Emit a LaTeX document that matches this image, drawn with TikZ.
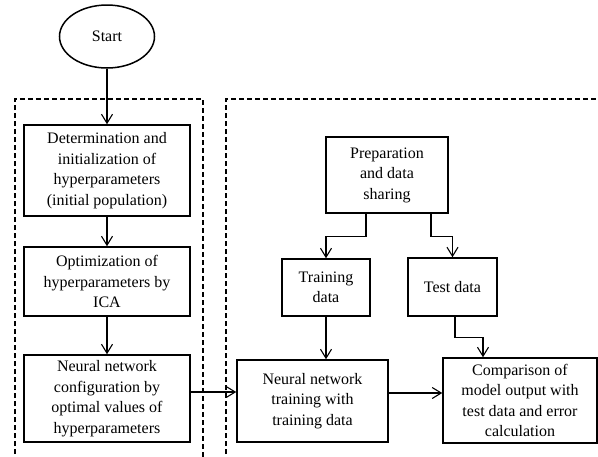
\documentclass[tikz,border=0pt]{standalone}
\usepackage{fontspec}
\setmainfont{Liberation Serif}
\usepackage{tikz}
\usetikzlibrary{arrows.meta,shapes.geometric}

\begin{document}
\begin{tikzpicture}[x=1pt,y=-1pt,line cap=butt,line join=miter,
  >={Straight Barb[length=9pt,width=11pt,line width=1.1pt]},
  box/.style={draw,line width=1.5pt,align=center,inner sep=2pt,
    font=\fontsize{16}{20.5}\selectfont},
  startnode/.style={draw,ellipse,line width=1.5pt,minimum width=95pt,minimum height=63pt,
    font=\fontsize{16}{20.5}\selectfont},
  frame/.style={line width=1.2pt,dash pattern=on 5pt off 3pt},
  link/.style={->,line width=1.1pt}]
\useasboundingbox (0,0) rectangle (598,456);
\clip (0,0) rectangle (598,456);
\draw[frame] (15,470) -- (15,99) -- (203,99) -- (203,470);
\draw[frame] (226,470) -- (226,99) -- (610,99);
\node[startnode] (start) at (107,36.5) {Start};
\node[box,minimum width=166pt,minimum height=91pt] (det) at (107,170.5) {Determination and\\initialization of\\hyperparameters\\(initial population)};
\node[box,minimum width=166pt,minimum height=69pt] (opt) at (107,281.5) {Optimization of\\hyperparameters by\\ICA};
\node[box,minimum width=166pt,minimum height=87pt] (cfg) at (107,398.5) {Neural network\\configuration by\\optimal values of\\hyperparameters};
\node[box,minimum width=122pt,minimum height=76pt] (prep) at (387,175) {Preparation\\and data\\sharing};
\node[box,minimum width=88pt,minimum height=57pt] (train) at (326,287.5) {Training\\data};
\node[box,minimum width=89pt,minimum height=58pt] (test) at (452.5,287) {Test data};
\node[box,minimum width=151pt,minimum height=82pt] (nntr) at (312.5,401) {Neural network\\training with\\training data};
\node[box,minimum width=154pt,minimum height=85pt] (comp) at (520,400.5) {Comparison of\\model output with\\test data and error\\calculation};
\draw[link] (start) -- (det);
\draw[link] (det) -- (opt);
\draw[link] (opt) -- (cfg);
\draw[link] ([yshift=6.5pt]cfg.east) -- ([yshift=6.5pt]cfg.east -| nntr.west);
\draw[link] ([xshift=-21pt]prep.south) -- ++(0,23) -| (train.north);
\draw[link] ([xshift=44pt]prep.south) -- ++(0,23) -| (test.north);
\draw[link] (train.south) -- (train.south |- nntr.north);
\draw[link] ([xshift=2.5pt]test.south) -- ++(0,21) -| ([xshift=-37pt]comp.north);
\draw[link] ([yshift=8pt]nntr.east) -- ([yshift=8pt]nntr.east -| comp.west);
\end{tikzpicture}
\end{document}
